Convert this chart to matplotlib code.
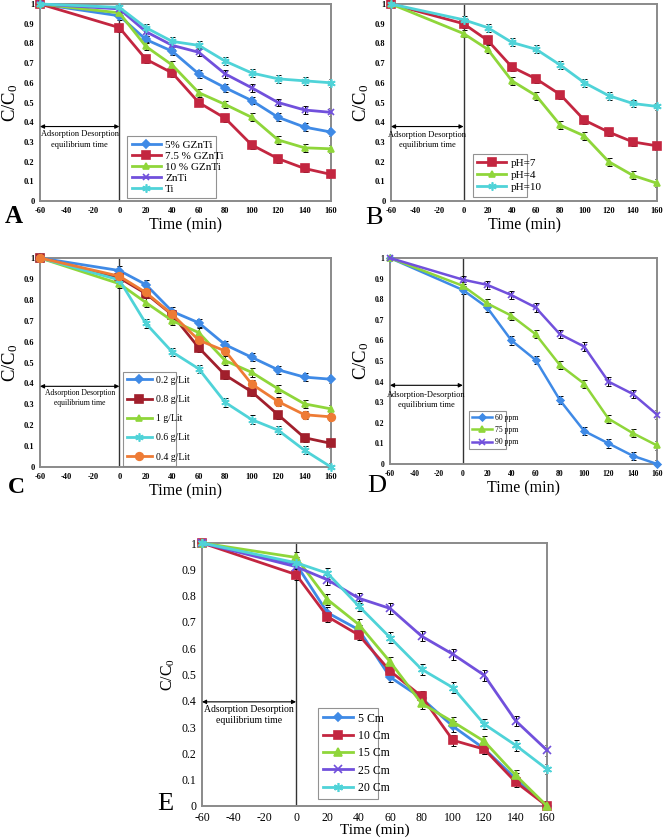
import numpy as np
import matplotlib
matplotlib.use("Agg")
import matplotlib.pyplot as plt

plt.rcParams['font.family'] = ['Liberation Serif', 'DejaVu Serif']
plt.rcParams['mathtext.fontset'] = 'custom'
plt.rcParams['mathtext.rm'] = 'Liberation Serif'
plt.rcParams['mathtext.it'] = 'Liberation Serif:italic'
plt.rcParams['axes.unicode_minus'] = False

# time axis shared by all panels
time = [-60, 0, 20, 40, 60, 80, 100, 120, 140, 160]
xticks = [-60, -40, -20, 0, 20, 40, 60, 80, 100, 120, 140, 160]
yticks = [0, 0.1, 0.2, 0.3, 0.4, 0.5, 0.6, 0.7, 0.8, 0.9, 1]
ytick_labels = ["0", "0.1", "0.2", "0.3", "0.4", "0.5", "0.6", "0.7", "0.8", "0.9", "1"]

# panel A : catalyst type
a_labels = ["5% GZnTi", "7.5 % GZnTi", "10 % GZnTi", "ZnTi", "Ti"]
a_5gznti = [1, 0.94, 0.82, 0.76, 0.645, 0.575, 0.51, 0.425, 0.375, 0.35]
a_75gznti = [1, 0.88, 0.72, 0.65, 0.50, 0.42, 0.285, 0.215, 0.165, 0.135]
a_10gznti = [1, 0.955, 0.785, 0.69, 0.55, 0.49, 0.425, 0.31, 0.27, 0.265]
a_znti = [1, 0.975, 0.86, 0.79, 0.755, 0.645, 0.575, 0.50, 0.462, 0.45]
a_ti = [1, 0.983, 0.88, 0.81, 0.79, 0.71, 0.65, 0.62, 0.61, 0.60]

# panel B : pH
b_labels = ["pH=7", "pH=4", "pH=10"]
b_ph7 = [1, 0.90, 0.815, 0.68, 0.62, 0.54, 0.41, 0.35, 0.30, 0.28]
b_ph4 = [1, 0.85, 0.77, 0.61, 0.535, 0.385, 0.33, 0.20, 0.13, 0.09]
b_ph10 = [1, 0.92, 0.88, 0.805, 0.77, 0.69, 0.60, 0.535, 0.495, 0.48]

# panel C : catalyst dose
c_labels = ["0.2 g/Lit", "0.8 g/Lit", "1 g/Lit", "0.6 g/Lit", "0.4 g/Lit"]
c_02 = [1, 0.94, 0.873, 0.744, 0.69, 0.585, 0.525, 0.465, 0.43, 0.42]
c_08 = [1, 0.905, 0.83, 0.728, 0.571, 0.44, 0.36, 0.25, 0.14, 0.113]
c_1 = [1, 0.877, 0.787, 0.70, 0.643, 0.509, 0.453, 0.374, 0.302, 0.278]
c_06 = [1, 0.895, 0.687, 0.55, 0.47, 0.309, 0.227, 0.176, 0.08, 0.0]
c_04 = [1, 0.913, 0.835, 0.73, 0.607, 0.555, 0.397, 0.313, 0.25, 0.24]

# panel D : initial concentration
d_labels = ["60 ppm", "75 ppm", "90 ppm"]
d_60 = [1, 0.845, 0.76, 0.60, 0.505, 0.31, 0.16, 0.10, 0.04, 0.0]
d_75 = [1, 0.865, 0.78, 0.72, 0.63, 0.48, 0.39, 0.22, 0.15, 0.09]
d_90 = [1, 0.895, 0.87, 0.82, 0.76, 0.63, 0.57, 0.40, 0.34, 0.24]

# panel E : lamp distance
e_labels = ["5 Cm", "10 Cm", "15 Cm", "25 Cm", "20 Cm"]
e_5 = [1, 0.92, 0.735, 0.67, 0.49, 0.41, 0.303, 0.218, 0.104, 0.0]
e_10 = [1, 0.88, 0.72, 0.65, 0.513, 0.417, 0.25, 0.216, 0.091, 0.0]
e_15 = [1, 0.945, 0.785, 0.69, 0.548, 0.39, 0.32, 0.246, 0.117, 0.0]
e_25 = [1, 0.91, 0.86, 0.79, 0.751, 0.646, 0.577, 0.497, 0.324, 0.212]
e_20 = [1, 0.925, 0.885, 0.76, 0.64, 0.52, 0.45, 0.311, 0.231, 0.14]

err = [0, 0.02, 0.02, 0.02, 0.02, 0.02, 0.02, 0.02, 0.02, 0.02]

BLUE = "#3f8ae6"
RED = "#c32640"
DRED = "#a11f2c"
GREEN = "#8fd63a"
PURPLE = "#7150dc"
CYAN = "#4fd3d8"
ORANGE = "#ee7b35"
ASTER = (6, 2, 0)

W, H = 663, 839
fig = plt.figure(figsize=(W / 100, H / 100), dpi=100)


def box(l, t, r, b):
    return [l / W, 1 - b / H, (r - l) / W, (b - t) / H]


def setup(ax, tick_fs, tick_fw, lab_fs, ylab_fs, arrow_y, text_y, text, text_fs, xpad=2):
    ax.set_xlim(-60, 160)
    ax.set_ylim(0, 1)
    ax.set_xticks(xticks)
    ax.set_yticks(yticks)
    ax.set_yticklabels(ytick_labels)
    ax.tick_params(length=0, pad=4, labelsize=tick_fs)
    for lab in ax.get_xticklabels() + ax.get_yticklabels():
        lab.set_fontweight(tick_fw)
    for s in ax.spines.values():
        s.set_color("#8a8a8a")
        s.set_linewidth(1.4)
    ax.axvline(0, color="#333333", lw=1.0, zorder=1)
    ax.set_xlabel("Time (min)", fontsize=lab_fs, labelpad=xpad)
    ax.set_ylabel("C/C$_0$", fontsize=ylab_fs, labelpad=3)
    ax.annotate("", xy=(-60, arrow_y), xytext=(0, arrow_y),
                arrowprops=dict(arrowstyle="<|-|>", color="black", lw=0.8,
                                mutation_scale=6, shrinkA=0, shrinkB=0))
    ax.text(-30, text_y, text, ha="center", va="center", fontsize=text_fs,
            linespacing=1.35)


def plot_series(ax, y, color, marker, label, ms, lw=2.0):
    ax.errorbar(time, y, yerr=err, fmt="none", ecolor="black", elinewidth=0.7,
                capsize=1.8, capthick=0.7, zorder=2)
    ax.plot(time, y, color=color, marker=marker, ms=ms, lw=lw, label=label,
            mec=color, mew=1.2, clip_on=False, zorder=3)


def legend(ax, l, b, w, h, fs, spacing):
    lg = ax.legend(loc="upper left", bbox_to_anchor=(l, b, w, h), mode="expand",
                   fontsize=fs, frameon=True, fancybox=False, borderaxespad=0,
                   handlelength=2.6, handletextpad=0.4, labelspacing=spacing,
                   borderpad=0.4)
    lg.get_frame().set_edgecolor("#777777")
    lg.get_frame().set_linewidth(0.8)


eq_text = "Adsorption Desorption\nequilibrium time"

# A
ax = fig.add_axes(box(40, 4, 331, 201))
setup(ax, 6, "bold", 11.5, 13.5, 0.378, 0.312, eq_text, 6)
plot_series(ax, a_5gznti, BLUE, "D", a_labels[0], 4)
plot_series(ax, a_75gznti, RED, "s", a_labels[1], 5.5)
plot_series(ax, a_10gznti, GREEN, "^", a_labels[2], 5)
plot_series(ax, a_znti, PURPLE, "x", a_labels[3], 5)
plot_series(ax, a_ti, CYAN, ASTER, a_labels[4], 6)
legend(ax, 0.30, 0.025, 0.305, 0.305, 8, 0.1)
fig.text(5 / W, 1 - 223 / H, "A", fontsize=18, fontweight="bold", ha="left", va="baseline")

# B
ax = fig.add_axes(box(391, 4, 657, 201))
setup(ax, 6, "bold", 11.5, 13.5, 0.378, 0.31, eq_text, 6)
plot_series(ax, b_ph7, RED, "s", b_labels[0], 5.5)
plot_series(ax, b_ph4, GREEN, "^", b_labels[1], 5)
plot_series(ax, b_ph10, CYAN, ASTER, b_labels[2], 6)
legend(ax, 0.308, 0.036, 0.205, 0.203, 8, 0.2)
fig.text(365 / W, 1 - 224 / H, "B", fontsize=19, ha="left", va="baseline")

# C
ax = fig.add_axes(box(40, 258, 331, 467))
setup(ax, 6, "bold", 11.5, 13.5, 0.386, 0.33, eq_text, 5.5)
plot_series(ax, c_02, BLUE, "D", c_labels[0], 4)
plot_series(ax, c_08, DRED, "s", c_labels[1], 5.5)
plot_series(ax, c_1, GREEN, "^", c_labels[2], 5)
plot_series(ax, c_06, CYAN, ASTER, c_labels[3], 6)
plot_series(ax, c_04, ORANGE, "o", c_labels[4], 5.5)
legend(ax, 0.285, 0.02, 0.182, 0.435, 7, 1.05)
fig.text(8 / W, 1 - 493 / H, "C", fontsize=17, fontweight="bold", ha="left", va="baseline")

# D
ax = fig.add_axes(box(390, 258, 657, 464))
setup(ax, 5.5, "bold", 11.5, 13.5, 0.382, 0.31, "Adsorption-Desorption\nequilibrium time", 6)
plot_series(ax, d_60, BLUE, "D", d_labels[0], 3.5, 1.8)
plot_series(ax, d_75, GREEN, "^", d_labels[1], 4.5, 1.8)
plot_series(ax, d_90, PURPLE, "x", d_labels[2], 4.5, 1.8)
legend(ax, 0.296, 0.058, 0.14, 0.20, 5.5, 0.55)
fig.text(367 / W, 1 - 492 / H, "D", fontsize=19, ha="left", va="baseline")

# E
ax = fig.add_axes(box(202, 543, 547, 806))
setup(ax, 8.5, "normal", 11, 11.5, 0.396, 0.345, eq_text, 7, xpad=0)
plot_series(ax, e_5, BLUE, "D", e_labels[0], 4.5)
plot_series(ax, e_10, RED, "s", e_labels[1], 6)
plot_series(ax, e_15, GREEN, "^", e_labels[2], 5.5)
plot_series(ax, e_25, PURPLE, "x", e_labels[3], 5.5)
plot_series(ax, e_20, CYAN, ASTER, e_labels[4], 6.5)
legend(ax, 0.336, 0.038, 0.174, 0.335, 8.5, 0.45)
fig.text(157 / W, 1 - 810 / H, "E", fontsize=19, ha="left", va="baseline")

fig.savefig("out.png", dpi=100)
